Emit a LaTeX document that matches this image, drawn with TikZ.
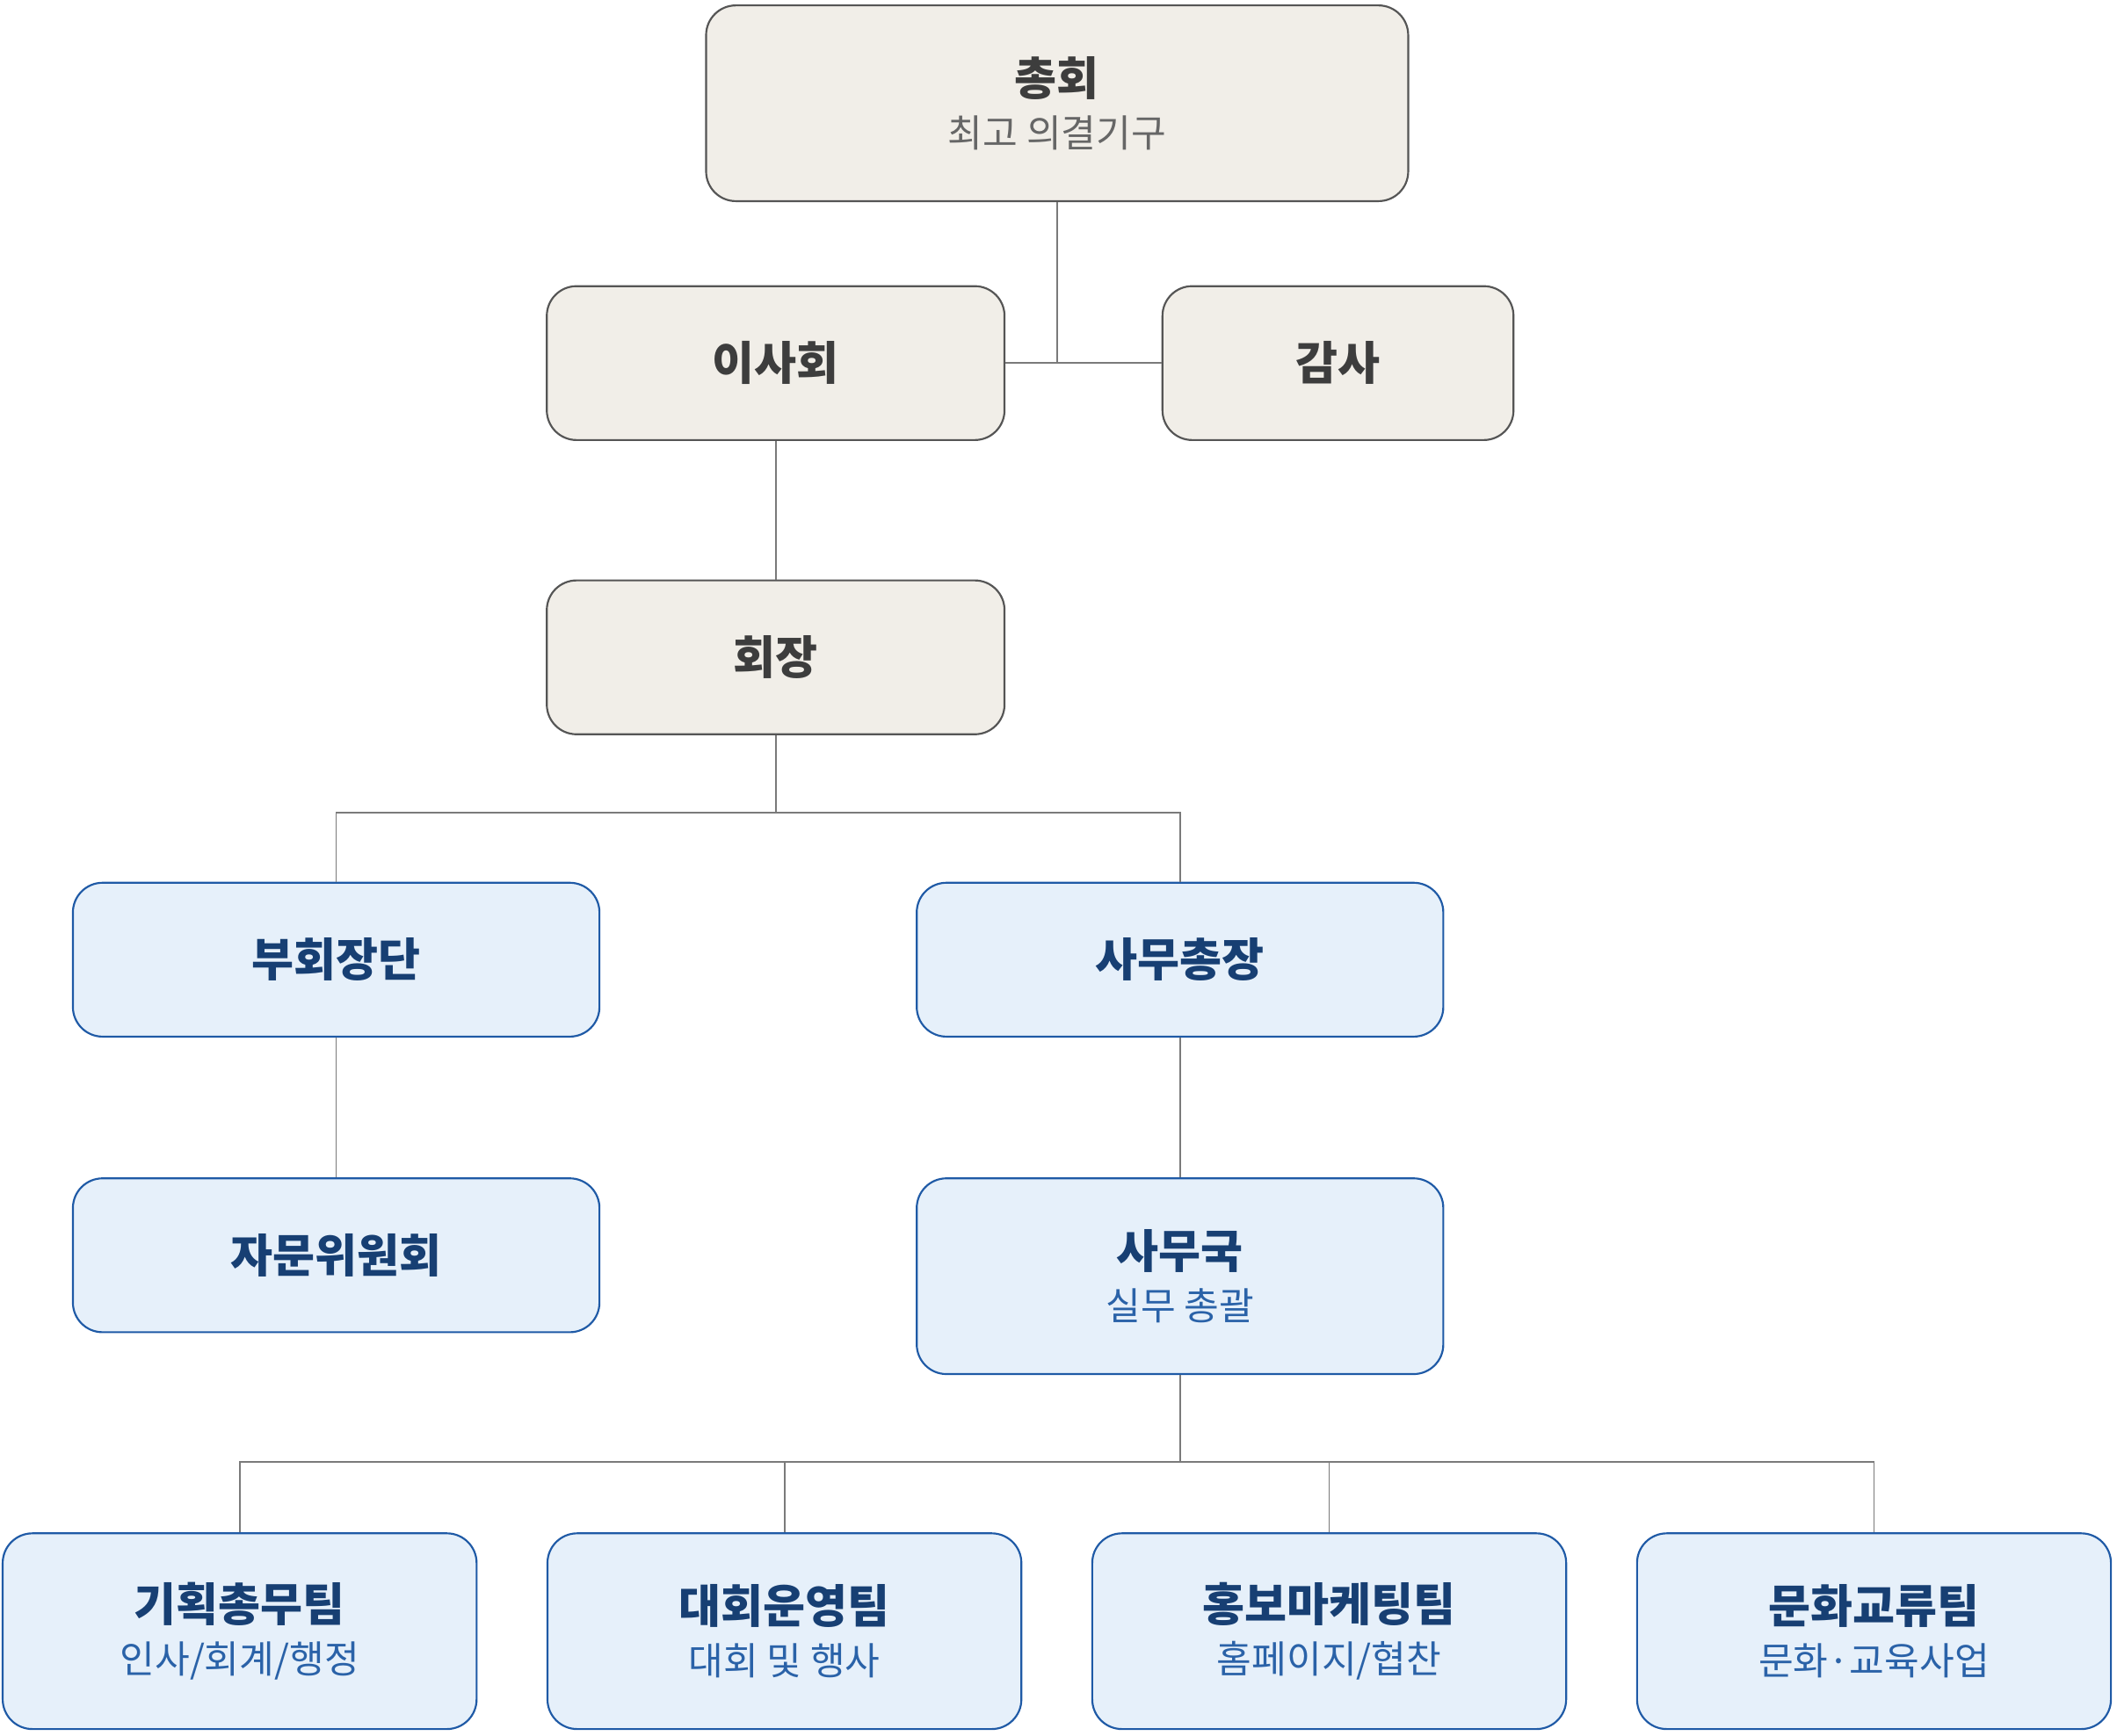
\documentclass[tikz,border=0pt]{standalone}
\usepackage{fontspec}
\setmainfont{Noto Sans CJK KR}
\begin{document}
\begin{tikzpicture}[x=0.03cm,y=-0.03cm,
  base/.style={rounded corners=0.66cm, line width=1.2pt, align=center, inner sep=0pt},
  beige/.style={base, fill=bfill, draw=bdraw, text=btext},
  blue/.style={base, fill=lfill, draw=ldraw, text=ltext},
  ttl/.style={font=\fontsize{29}{34}\selectfont\bfseries},
  conn/.style={draw=lineg, line width=1pt}]
\definecolor{bfill}{HTML}{F1EEE8}\definecolor{bdraw}{HTML}{555555}\definecolor{btext}{HTML}{3D3D3D}
\definecolor{bsub}{HTML}{666666}
\definecolor{lfill}{HTML}{E6F0FA}\definecolor{ldraw}{HTML}{1F5AA6}\definecolor{ltext}{HTML}{173F73}
\definecolor{lsub}{HTML}{2A62A8}\definecolor{lineg}{HTML}{7A7A7A}
\newcommand{\twol}[3]{{\fontsize{29}{34}\selectfont\bfseries #1}\\[9pt]{\fontsize{24}{28}\selectfont\color{#3}#2}}
\useasboundingbox (0,0) rectangle (1568,1286);
\node[beige, minimum width=15.6cm, minimum height=4.35cm] (a) at (783,76.5) {\twol{총회}{최고 의결기구}{bsub}};
\node[beige, ttl, minimum width=10.17cm, minimum height=3.42cm] (b) at (574.5,269) {이사회};
\node[beige, ttl, minimum width=7.8cm, minimum height=3.42cm] (c) at (991,269) {감사};
\node[beige, ttl, minimum width=10.17cm, minimum height=3.42cm] (d) at (574.5,487) {회장};
\node[blue, ttl, minimum width=11.7cm, minimum height=3.42cm] (e) at (249,711) {부회장단};
\node[blue, ttl, minimum width=11.7cm, minimum height=3.42cm] (f) at (874,711) {사무총장};
\node[blue, ttl, minimum width=11.7cm, minimum height=3.42cm] (g) at (249,930) {자문위원회};
\node[blue, minimum width=11.7cm, minimum height=4.35cm] (h) at (874,945.5) {\twol{사무국}{실무 총괄}{lsub}};
\node[blue, minimum width=10.53cm, minimum height=4.35cm] (t1) at (177.5,1208.5) {\twol{기획총무팀}{인사/회계/행정}{lsub}};
\node[blue, minimum width=10.53cm, minimum height=4.35cm] (t2) at (581,1208.5) {\twol{대회운영팀}{대회 및 행사}{lsub}};
\node[blue, minimum width=10.53cm, minimum height=4.35cm] (t3) at (984.5,1208.5) {\twol{홍보마케팅팀}{홈페이지/협찬}{lsub}};
\node[blue, minimum width=10.53cm, minimum height=4.35cm] (t4) at (1388,1208.5) {\twol{문화교류팀}{문화·교육사업}{lsub}};
\coordinate (j1) at (a.south |- b.east);
\coordinate (j2) at (574.5,602);
\coordinate (j3) at (874,1083);
\draw[conn] (a.south) -- (j1);
\draw[conn] (b.east) -- (c.west);
\draw[conn] (b.south) -- (d.north);
\draw[conn] (d.south) -- (j2);
\draw[conn] (e.north) -- (e.north |- j2) -- (f.north |- j2) -- (f.north);
\draw[conn] (e.south) -- (g.north);
\draw[conn] (f.south) -- (h.north);
\draw[conn] (h.south) -- (j3);
\draw[conn] (t1.north) -- (t1.north |- j3) -- (t4.north |- j3) -- (t4.north);
\draw[conn] (t2.north) -- (t2.north |- j3);
\draw[conn] (t3.north) -- (t3.north |- j3);
\end{tikzpicture}
\end{document}
